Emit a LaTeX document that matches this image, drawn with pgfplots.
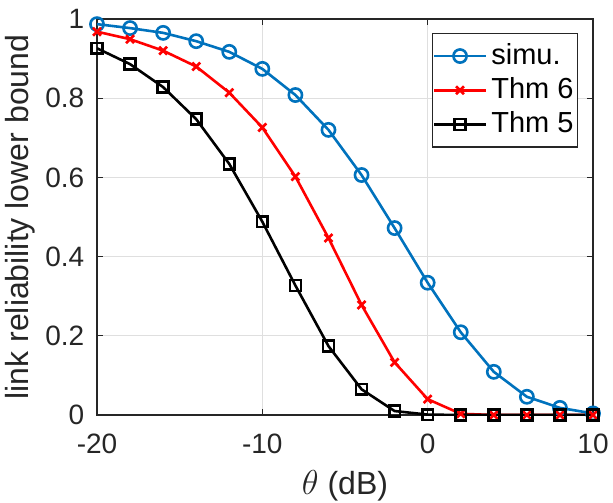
\documentclass[border=0pt]{standalone}
\usepackage{pgfplots}
\pgfplotsset{compat=1.18}
\usepackage{fontspec}
\setmainfont{Liberation Sans}
\definecolor{mblue}{rgb}{0,0.447,0.741}
\definecolor{axgray}{rgb}{0.15,0.15,0.15}

\pgfplotstableread{
x     simu   thmsix  thmfive
-20   0.987  0.968   0.926
-18   0.977  0.949   0.886
-16   0.965  0.920   0.828
-14   0.944  0.880   0.747
-12   0.917  0.814   0.634
-10   0.874  0.726   0.488
-8    0.808  0.602   0.327
-6    0.720  0.447   0.174
-4    0.606  0.278   0.065
-2    0.472  0.133   0.010
0     0.334  0.040   0.001
2     0.209  0.003   0.000
4     0.109  0.000   0.000
6     0.046  0.000   0.000
8     0.018  0.000   0.000
10    0.004  0.000   0.000
}\data

\begin{document}
\begin{tikzpicture}
\fontsize{14}{16}\selectfont
\begin{axis}[
  name=ax,
  scale only axis,
  width=248pt, height=198pt,
  xmin=-20, xmax=10, ymin=0, ymax=1,
  xtick={-20,-10,0,10},
  xticklabels={-20,-10,0,10},
  ytick={0,0.2,0.4,0.6,0.8,1},
  yticklabels={0,0.2,0.4,0.6,0.8,1},
  tick align=inside,
  major tick length=3pt,
  tick style={axgray, line width=0.5pt},
  axis line style={axgray, line width=0.6pt},
  grid=major,
  grid style={gray!25, line width=0.5pt},
  ticklabel style={font=\fontsize{14}{16}\selectfont, text=axgray},
  xticklabel style={yshift=-4.5pt},
  yticklabel style={xshift=-1.5pt},
  label style={font=\fontsize{16}{18}\selectfont, text=axgray},
  xlabel={$\theta$ (dB)},
  xlabel style={at={(axis description cs:0.5,-0.18)}, anchor=center},
  ylabel={link reliability lower bound},
  ylabel style={at={(axis description cs:-0.155,0.5)}, anchor=center},
  legend style={at={(rel axis cs:0.97,0.965)}, anchor=north east,
    font=\fontsize{14.5}{17}\selectfont, draw=axgray, line width=0.6pt,
    inner xsep=0pt, inner ysep=3pt, row sep=0.5pt},
  legend cell align=left,
  legend image code/.code={
    \draw[mark repeat=2,mark phase=2,#1] plot coordinates {(0pt,0pt)(13pt,0pt)(26pt,0pt)};
  },
]
\addplot[mblue, line width=1.3pt, mark=o, mark size=3.3pt] table[x=x,y=simu] {\data};
\addlegendentry{simu.}
\addplot[red, line width=1.3pt, mark=x, mark size=2.8pt, mark options={line width=1.3pt}] table[x=x,y=thmsix] {\data};
\addlegendentry{Thm 6}
\addplot[black, line width=1.3pt, mark=square, mark size=2.7pt] table[x=x,y=thmfive] {\data};
\addlegendentry{Thm 5}
\end{axis}
\pgfresetboundingbox
\path ([xshift=-48.5pt,yshift=-43.5pt]ax.south west) rectangle ([xshift=10pt,yshift=9.5pt]ax.north east);
\end{tikzpicture}
\end{document}
